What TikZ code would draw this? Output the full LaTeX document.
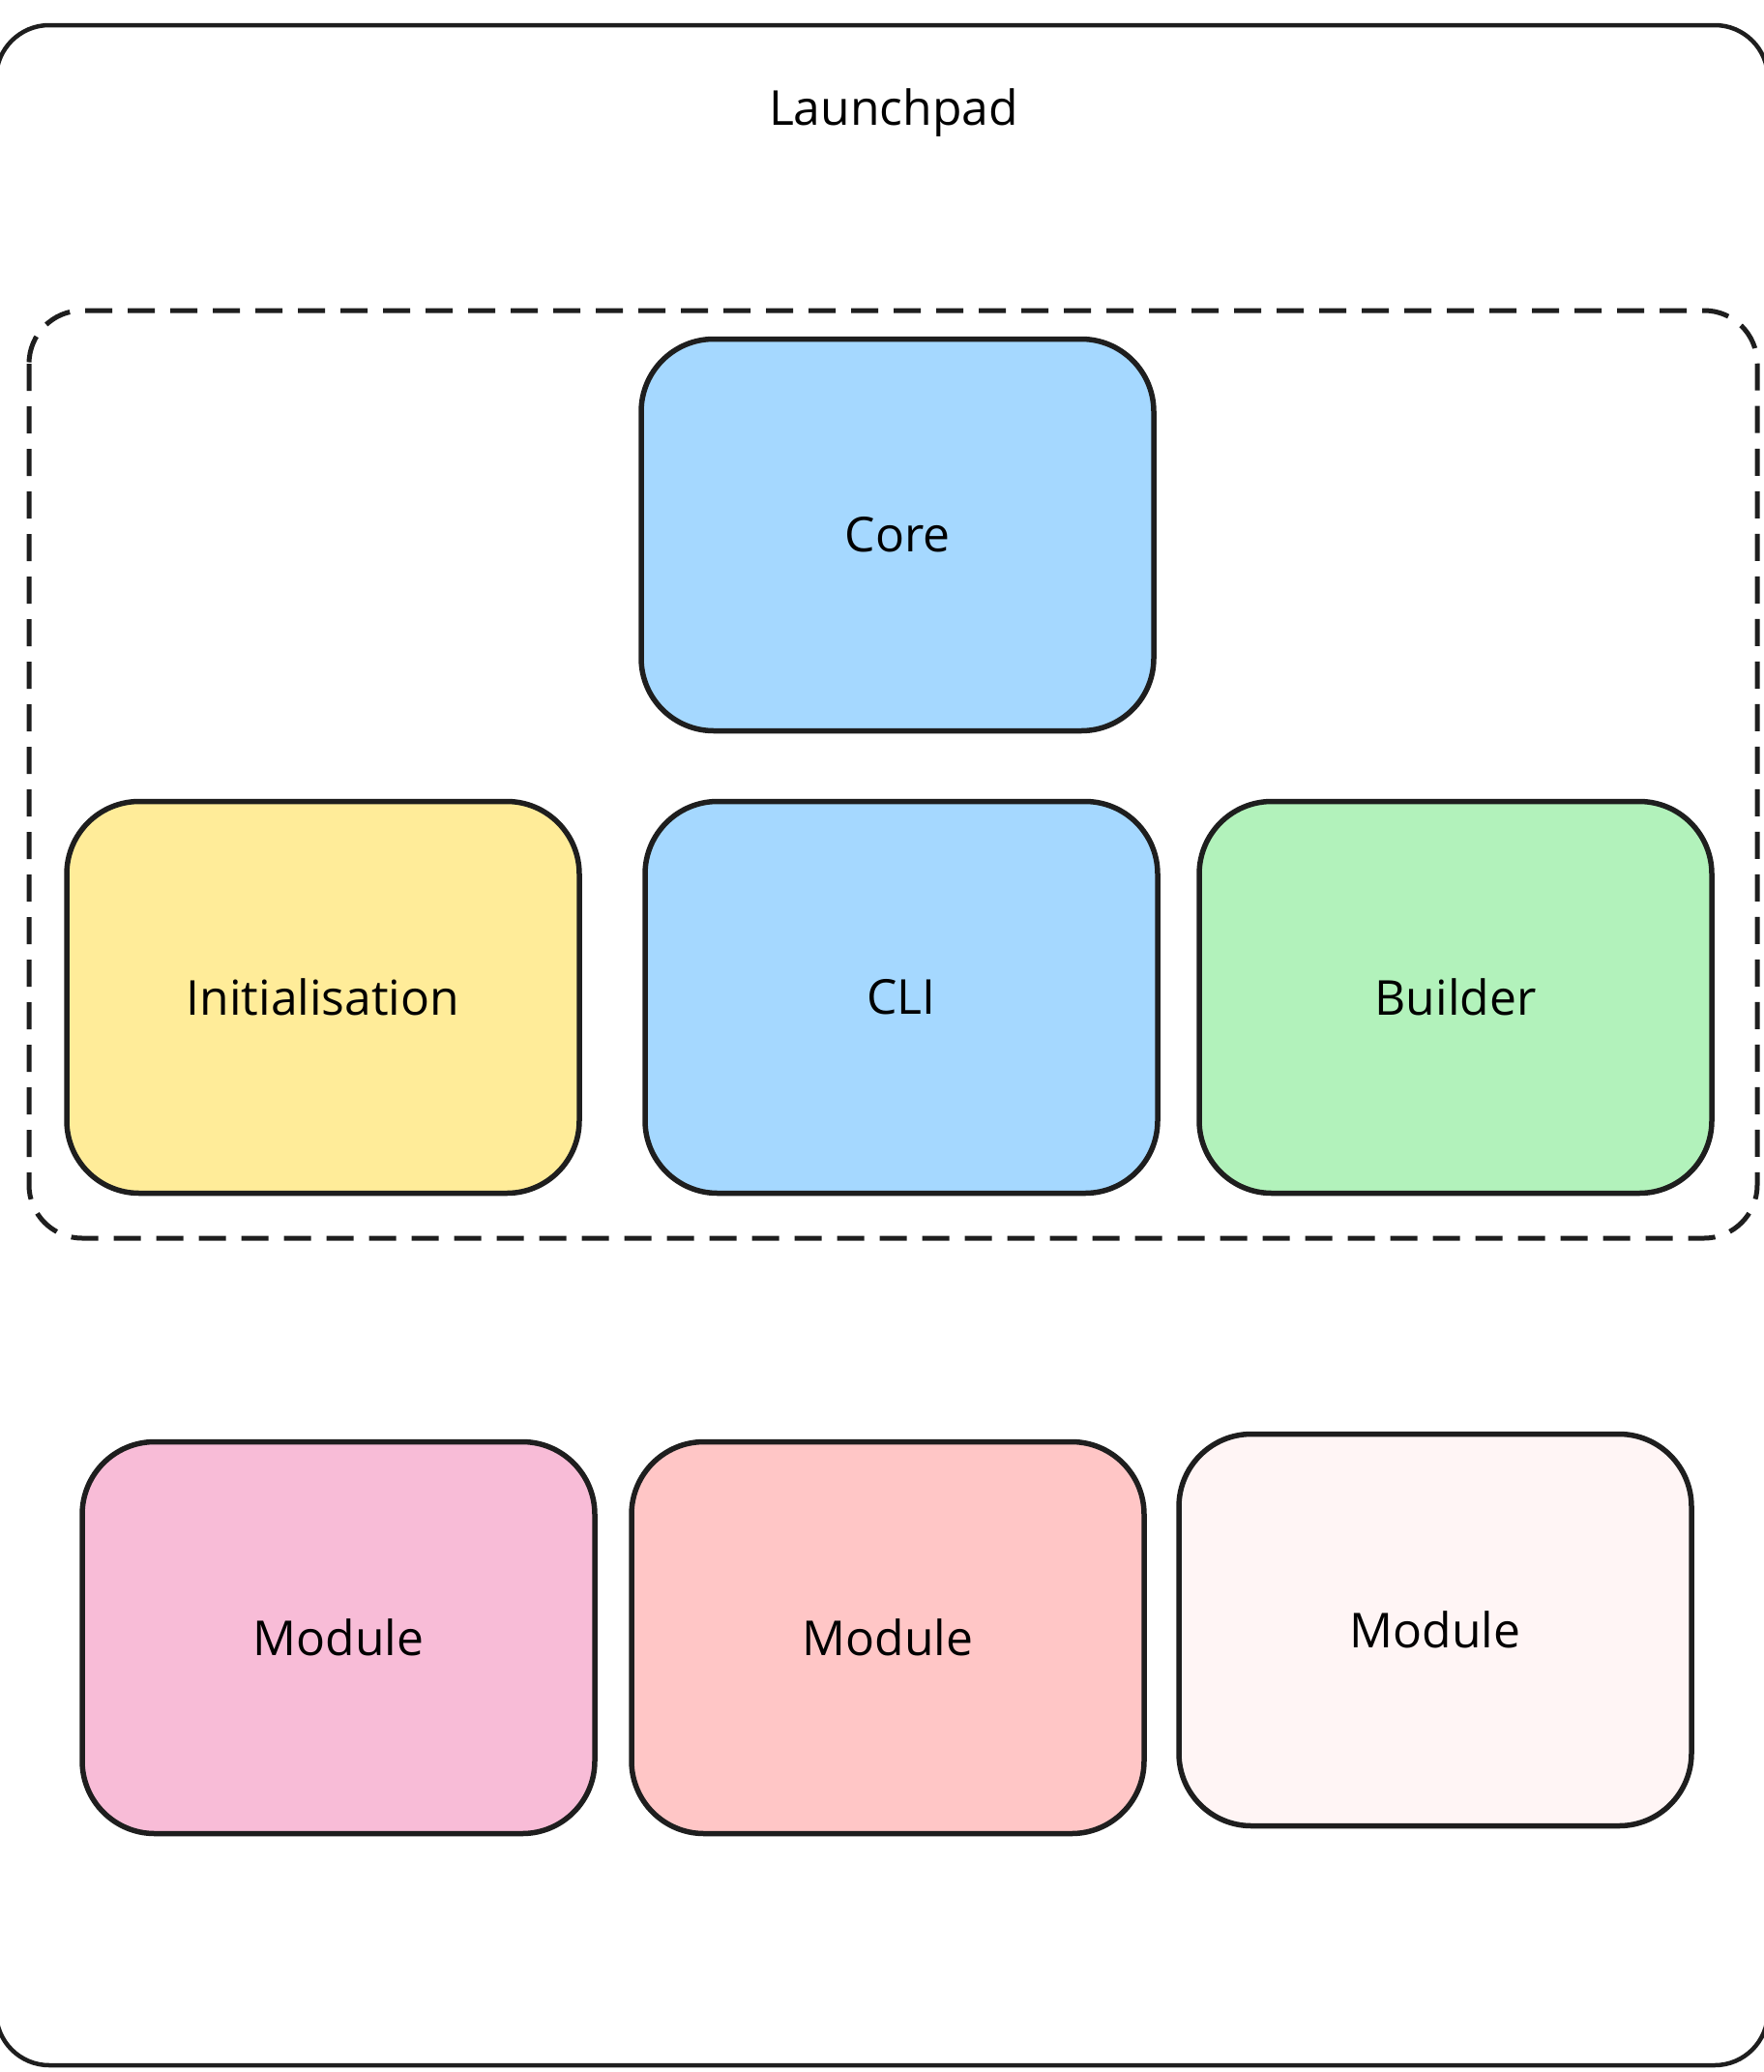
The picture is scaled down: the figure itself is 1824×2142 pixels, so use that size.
\documentclass[tikz,border=0pt]{standalone}
\usepackage{fontspec}
\setmainfont{Open Sans}
\usepackage{tikz}
\usetikzlibrary{shapes}

\definecolor{ink}{HTML}{1E1E1E}
\definecolor{coreblue}{HTML}{A5D8FF}
\definecolor{inityellow}{HTML}{FFEC99}
\definecolor{buildgreen}{HTML}{B2F2BB}
\definecolor{modpink}{HTML}{F8BCD7}
\definecolor{modred}{HTML}{FFC6C6}
\definecolor{modpale}{HTML}{FFF5F5}

\begin{document}
\begin{tikzpicture}[
  block/.style={draw=ink,line width=5.5bp,rounded corners=75bp,minimum width=530bp,minimum height=405bp,font=\fontsize{50}{60}\selectfont}
]
\useasboundingbox (0bp,0bp) rectangle (1824bp,-2142bp);
\fill[white] (0bp,0bp) rectangle (1824bp,-2142bp);

\draw [draw=ink,line width=4.5bp,rounded corners=55bp] (-4bp,-26bp) rectangle (1828bp,-2135bp);
\node (Title) at (924bp,-117bp)[font=\fontsize{50}{60}\selectfont] {Launchpad};

\draw [draw=ink,line width=5bp,dash pattern=on 28bp off 16bp,rounded corners=55bp] (30bp,-321bp) rectangle (1817bp,-1280bp);

\node (Core) at (928bp,-553bp)[block,fill=coreblue] {Core};
\node (Init) at (334bp,-1031bp)[block,fill=inityellow] {Initialisation};
\node (CLI) at (932bp,-1031bp)[block,fill=coreblue] {CLI};
\node (Build) at (1505bp,-1031bp)[block,fill=buildgreen] {Builder};

\node (M1) at (350bp,-1693bp)[block,fill=modpink] {Module};
\node (M2) at (918bp,-1693bp)[block,fill=modred] {Module};
\node (M3) at (1484bp,-1685bp)[block,fill=modpale] {Module};
\end{tikzpicture}
\end{document}
